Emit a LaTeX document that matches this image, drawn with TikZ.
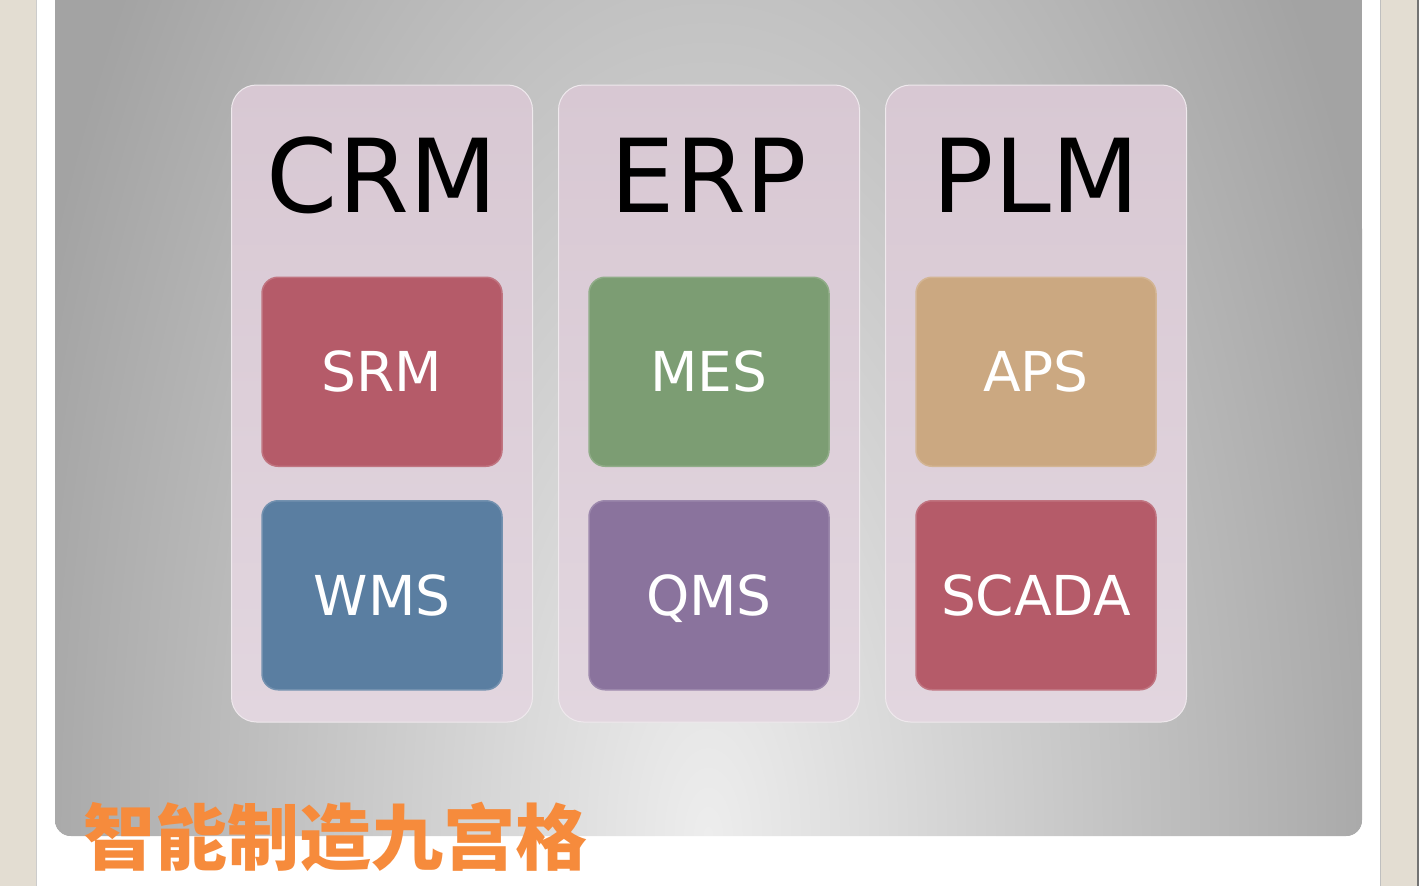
\documentclass[tikz,border=0pt]{standalone}
\usepackage{fontspec}
\setmainfont{DejaVu Sans}
\newfontfamily\cjkfont{Noto Sans CJK SC}
\usetikzlibrary{positioning}

\definecolor{pageBeige}{HTML}{E3DDD2}
\definecolor{slideIn}{HTML}{EDEDED}
\definecolor{slideOut}{HTML}{A3A3A3}
\definecolor{colTop}{HTML}{D8C8D3}
\definecolor{colBot}{HTML}{E2D6DF}
\definecolor{redBox}{HTML}{B55B69}
\definecolor{blueBox}{HTML}{5A7EA1}
\definecolor{greenBox}{HTML}{7C9D73}
\definecolor{purpleBox}{HTML}{8A739D}
\definecolor{sandBox}{HTML}{CBA881}
\definecolor{bannerOrange}{HTML}{F68B3C}

\tikzset{
  column/.style={rounded corners=25pt, minimum width=301pt, minimum height=637pt,
    inner sep=0pt, top color=colTop, bottom color=colBot, draw=white!60!colTop, line width=1pt},
  title/.style={font=\fontsize{102}{102}\selectfont, text height=74.5pt, text depth=0pt, inner sep=0pt},
  modbox/.style={rounded corners=16pt, minimum width=240pt, minimum height=189pt, inner sep=0pt,
    text=white, font=\fontsize{55}{55}\selectfont, text height=40pt, text depth=0pt, line width=1.5pt},
  banner/.style={font=\cjkfont\bfseries\fontsize{72}{72}\selectfont, text=bannerOrange, inner sep=0pt},
}

\begin{document}
\begin{tikzpicture}[x=1pt, y=-1pt]
      \useasboundingbox (0,0) rectangle (1419,886);
      % page
      \fill[pageBeige] (0,0) rectangle (1419,886);
      \fill[white] (36,0) rectangle (1380,886);
      \draw[black!20] (36.5,0) -- (36.5,886);
      \draw[black!25] (1380.5,0) -- (1380.5,886);
      \draw[black!55, line width=1.5pt] (1418,0) -- (1418,886);
      % slide
      \begin{scope}
        \clip[rounded corners=16pt] (55,-30) rectangle (1362,836);
        \fill[slideOut] (55,-30) rectangle (1362,836);
        \shade[inner color=slideIn, outer color=slideOut] (708,836) ellipse [x radius=720, y radius=1450];
      \end{scope}
      % CRM
      \draw (382,403.5) node[column](crm){};
      \node[title, below=53pt of crm.north](crmT){CRM};
      \node[modbox, fill=redBox, draw=redBox!85!white, below=192pt of crm.north](srm){SRM};
      \node[modbox, fill=blueBox, draw=blueBox!85!white, below=33pt of srm](wms){WMS};
      % ERP
      \draw (709,403.5) node[column](erp){};
      \node[title, below=53pt of erp.north](erpT){ERP};
      \node[modbox, fill=greenBox, draw=greenBox!85!white, below=192pt of erp.north](mes){MES};
      \node[modbox, fill=purpleBox, draw=purpleBox!85!white, below=33pt of mes](qms){QMS};
      % PLM
      \draw (1036,403.5) node[column](plm){};
      \node[title, below=53pt of plm.north](plmT){PLM};
      \node[modbox, fill=sandBox, draw=sandBox!85!white, below=192pt of plm.north](aps){APS};
      \node[modbox, fill=redBox, draw=redBox!85!white, below=33pt of aps](scada){SCADA};
      % banner
      \node[banner, anchor=base west](ninegrid) at (83,864) {智能制造九宫格};
\end{tikzpicture}
\end{document}
